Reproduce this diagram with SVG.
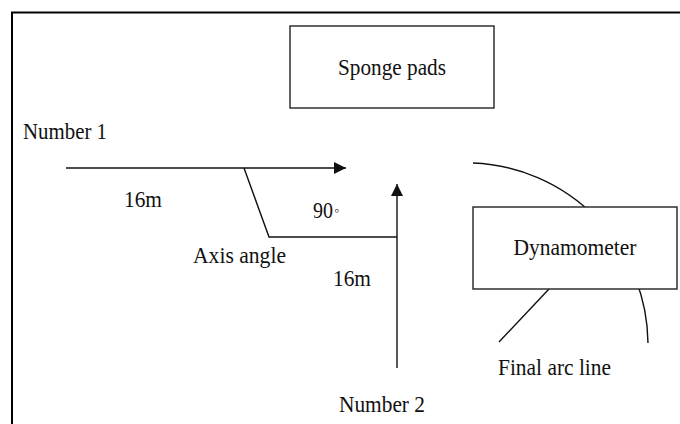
<svg xmlns="http://www.w3.org/2000/svg" width="680" height="424" viewBox="0 0 680 424">
  <style>
    text { font-family: "Liberation Serif", "Times New Roman", serif; font-size: 22.5px; fill: #111; }
    .box { fill: #fff; stroke: #222; stroke-width: 1.4; }
    .ln { fill: none; stroke: #111; stroke-width: 1.4; }
    .mid { text-anchor: middle; }
  </style>
  <defs>
    <marker id="arr" markerUnits="userSpaceOnUse" markerWidth="13" markerHeight="12" refX="12" refY="6" orient="auto">
      <path d="M0,0 L12,6 L0,12 z" fill="#111"/>
    </marker>
  </defs>
  <rect x="12" y="12.5" width="700" height="450" fill="#fff" stroke="#000" stroke-width="2"/>

  <g id="connectors">
    <path class="ln" d="M473,163 A182,182 0 0 1 648,343"/>
    <path class="ln" d="M66,168 H346" marker-end="url(#arr)"/>
    <path class="ln" d="M397,368 V184" marker-end="url(#arr)"/>
    <path class="ln" d="M244,168 L269,237 H397"/>
    <path class="ln" d="M549,289 L499,342"/>
  </g>

  <g id="sponge-pads">
    <rect class="box" x="290" y="26" width="204" height="82"/>
    <text class="mid" x="392" y="75" textLength="108" lengthAdjust="spacingAndGlyphs">Sponge pads</text>
  </g>

  <g id="dynamometer">
    <rect class="box" x="473" y="207" width="204" height="82"/>
    <text class="mid" x="575" y="255" textLength="123" lengthAdjust="spacingAndGlyphs">Dynamometer</text>
  </g>

  <g id="labels">
    <text x="23" y="139" textLength="84" lengthAdjust="spacingAndGlyphs">Number 1</text>
    <text x="124" y="207" textLength="38" lengthAdjust="spacingAndGlyphs">16m</text>
    <text x="313" y="218"><tspan textLength="20" lengthAdjust="spacingAndGlyphs">90</tspan><tspan font-size="14" dx="1" dy="-3">◦</tspan></text>
    <text x="193" y="263" textLength="93" lengthAdjust="spacingAndGlyphs">Axis angle</text>
    <text x="333" y="286" textLength="38" lengthAdjust="spacingAndGlyphs">16m</text>
    <text x="339" y="412" textLength="86" lengthAdjust="spacingAndGlyphs">Number 2</text>
    <text x="498" y="375" textLength="113" lengthAdjust="spacingAndGlyphs">Final arc line</text>
  </g>
</svg>
